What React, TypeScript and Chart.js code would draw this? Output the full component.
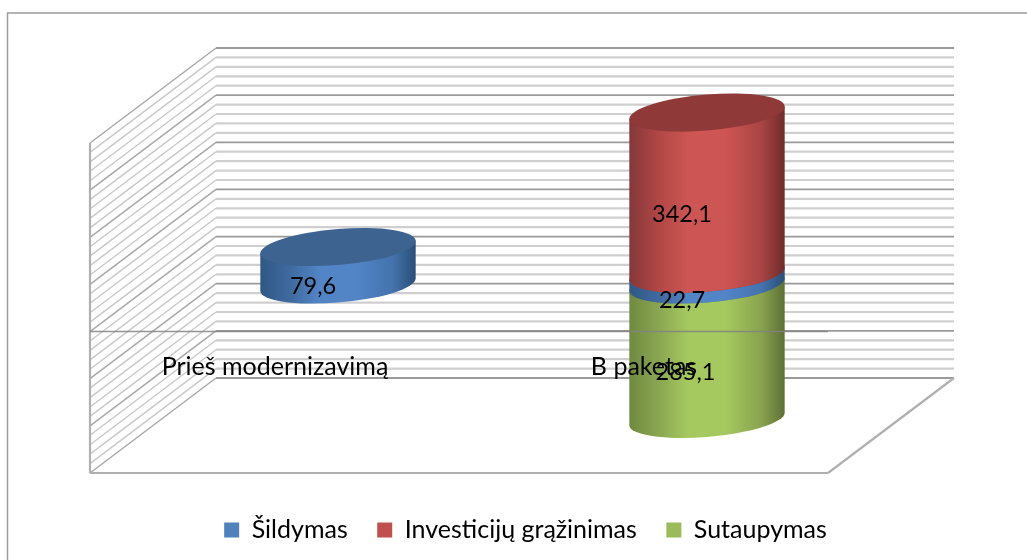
import React, { useEffect, useRef } from "react";
import { Chart, registerables } from "chart.js";

Chart.register(...registerables);

const categories = ["Prieš modernizavimą", "B paketas"];
const sildymas = [79.6, 22.7];
const investicijos = [null, 342.1];
const sutaupymas = [null, -285.1];

const seriesColors = ["#4f81bd", "#c0504d", "#9bbb59"];
const capColors = ["#3d6491", "#8f3a38", "#7c9647"];
const sideShades = [
  ["#2f5884", "#3f6ba0", "#5285c6", "#5285c6", "#4473ad", "#2a4f78"],
  ["#85373a", "#b34846", "#cd5553", "#cd5553", "#a84543", "#6f2b2a"],
  ["#6f8a40", "#8ca852", "#a5c95f", "#a5c95f", "#89a34e", "#5c7034"],
];
const shadeStops = [0, 0.2, 0.38, 0.62, 0.85, 1];

const FONT = "Lato";
const VALUE_FONT_SIZE = 23.5;
const TEXT_FONT_SIZE = 25;
const DEPTH_X_BACK = 62.5;
const DEPTH_X_FRONT = 63.5;
const DEPTH_Y_BACK = 48;
const DEPTH_Y_FRONT = 47;
const CAP_RADIUS_Y = 18;
const CAP_SHEAR = -0.08;

const fmt = (v: number) => Math.abs(v).toFixed(1).replace(".", ",");

const chart3d = {
  id: "chart3d",
  beforeDraw(chart: any) {
    const c = chart.ctx;
    c.save();
    c.fillStyle = "#ffffff";
    c.fillRect(0, 0, chart.width, chart.height);
    c.strokeStyle = "#9c9c9c";
    c.lineWidth = 1.5;
    c.strokeRect(7.5, 13, 1100, 700);
    c.restore();
  },
  afterLayout(chart: any) {
    const lg = chart.legend;
    lg.left += 3;
    lg.right += 3;
    lg.top = 488;
    lg.bottom = 560;
    const xs = chart.scales.x;
    xs.top = 352;
    xs.bottom = 395;
  },
  beforeDatasetsDraw(chart: any) {
    const c = chart.ctx;
    const { left, right } = chart.chartArea;
    const y = chart.scales.y;
    const bx = left + DEPTH_X_BACK, bxr = right + DEPTH_X_BACK;
    const fx = left - DEPTH_X_FRONT, fxr = right - DEPTH_X_FRONT;
    const dropY = DEPTH_Y_BACK + DEPTH_Y_FRONT;
    const line = (x0: number, y0: number, x1: number, y1: number) => {
      c.beginPath();
      c.moveTo(x0, y0);
      c.lineTo(x1, y1);
      c.stroke();
    };

    c.save();
    c.filter = "blur(0.5px)";
    // walls: one line per tick of the value axis
    for (const t of y.ticks) {
      const yb = y.getPixelForValue(t.value) - DEPTH_Y_BACK;
      const major = Math.abs(Math.round(t.value) % 100) === 0;
      c.strokeStyle = major ? "#9a9a9a" : "#cfcfcf";
      c.lineWidth = major ? 1.8 : 2.2;
      line(bx, yb, bxr, yb);
      c.strokeStyle = major ? "#a8a8a8" : "#c8c8c8";
      c.lineWidth = major ? 1.5 : 1.4;
      line(bx, yb, fx, yb + dropY);
    }
    const yTopBack = y.getPixelForValue(y.max) - DEPTH_Y_BACK;
    const yBotBack = y.getPixelForValue(y.min) - DEPTH_Y_BACK;
    c.strokeStyle = "#b0b0b0";
    c.lineWidth = 2.2;
    line(fx, yTopBack + dropY, fx, yBotBack + dropY);
    line(fx, yBotBack + dropY, fxr, yBotBack + dropY);
    line(fxr, yBotBack + dropY, bxr, yBotBack);
    c.filter = "none";

    // cylinders, from the library's bar geometry
    const items: any[] = [];
    chart.data.datasets.forEach((ds: any, di: number) => {
      chart.getDatasetMeta(di).data.forEach((el: any, i: number) => {
        if (ds.data[i] == null) return;
        const p = el.getProps(["x", "y", "base", "width"], true);
        items.push({
          di,
          value: ds.data[i],
          x: p.x,
          w: p.width,
          top: Math.min(p.y, p.base),
          bot: Math.max(p.y, p.base),
        });
      });
    });
    items.sort((a, b) => b.bot - a.bot);
    for (const it of items) {
      const X = it.w / 2;
      c.save();
      c.transform(1, CAP_SHEAR, 0, 1, it.x, 0);
      const g = c.createLinearGradient(-X, 0, X, 0);
      shadeStops.forEach((s, k) => g.addColorStop(s, sideShades[it.di][k]));
      c.fillStyle = g;
      c.beginPath();
      c.moveTo(-X, it.top);
      c.lineTo(X, it.top);
      c.lineTo(X, it.bot);
      c.ellipse(0, it.bot, X, CAP_RADIUS_Y, 0, 0, Math.PI, false);
      c.closePath();
      c.fill();
      c.fillStyle = capColors[it.di];
      c.beginPath();
      c.ellipse(0, it.top, X, CAP_RADIUS_Y, 0, 0, Math.PI * 2);
      c.fill();
      c.restore();
    }

    // category axis line at the front plane
    const y0 = y.getPixelForValue(0) + DEPTH_Y_FRONT;
    c.strokeStyle = "rgba(130,130,130,0.85)";
    c.lineWidth = 1.6;
    line(fx, y0, fxr, y0);

    // value labels
    c.fillStyle = "#000000";
    c.font = `${VALUE_FONT_SIZE}px ${FONT}`;
    c.textAlign = "center";
    c.textBaseline = "middle";
    for (const it of items) {
      const dx = it.value < 0 ? -21.5 : -25;
      c.fillText(fmt(it.value), it.x + dx, (it.top + it.bot) / 2 + 21);
    }
    c.restore();
    return false;
  },
};

export default function App() {
  const ref = useRef<HTMLCanvasElement>(null);
  useEffect(() => {
    const chart = new Chart(ref.current as HTMLCanvasElement, {
      type: "bar",
      data: {
        labels: categories,
        datasets: [
          { label: "Šildymas", data: sildymas, backgroundColor: seriesColors[0] },
          { label: "Investicijų grąžinimas", data: investicijos, backgroundColor: seriesColors[1] },
          { label: "Sutaupymas", data: sutaupymas, backgroundColor: seriesColors[2] },
        ],
      } as any,
      plugins: [chart3d as any],
      options: {
        responsive: false,
        animation: false,
        datasets: { bar: { categoryPercentage: 1, barPercentage: 0.421 } },
        layout: { padding: { left: 153.5, right: 135.5, top: 96, bottom: 69.5 } },
        scales: {
          x: {
            stacked: true,
            afterFit: (s: any) => { s.height = 0; },
            border: { display: false },
            grid: { display: false, drawTicks: false },
            ticks: {
              z: 1,
              color: "#000000",
              font: { family: FONT, size: TEXT_FONT_SIZE },
              labelOffset: -63,
              padding: 0,
              autoSkip: false,
              maxRotation: 0,
              minRotation: 0,
            },
          },
          y: {
            stacked: true,
            min: -300,
            max: 400,
            afterFit: (s: any) => { s.width = 0; },
            border: { display: false },
            grid: { display: false, drawTicks: false },
            ticks: { display: false, stepSize: 20, autoSkip: false },
          },
        },
        plugins: {
          tooltip: { enabled: false },
          legend: {
            position: "bottom",
            fullSize: false,
            labels: {
              color: "#000000",
              boxWidth: 15,
              boxHeight: 15,
              padding: 29.5,
              font: { family: FONT, size: TEXT_FONT_SIZE },
            },
          },
        },
      } as any,
    });
    return () => chart.destroy();
  }, []);
  return (
    <div style={{ position: "fixed", left: 0, top: 0 }}>
      <canvas ref={ref} width={1027} height={560} style={{ display: "block" }} />
    </div>
  );
}
